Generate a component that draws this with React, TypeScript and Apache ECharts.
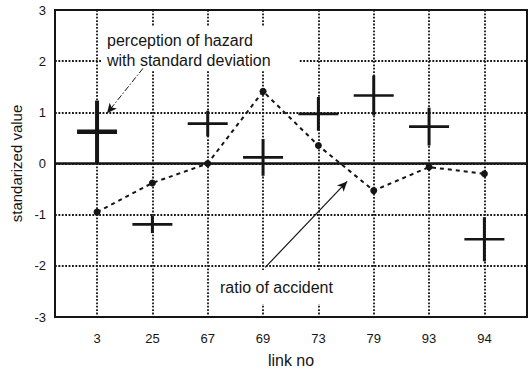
import React, { useEffect, useRef } from "react";
import * as echarts from "echarts";

const categories = ["3", "25", "67", "69", "73", "79", "93", "94"];
const hazardMean = [0.62, -1.19, 0.78, 0.12, 0.97, 1.33, 0.72, -1.48];
const hazardSd = [0.61, 0.17, 0.25, 0.36, 0.33, 0.39, 0.37, 0.43];
const accidentRatio = [-0.95, -0.38, 0.0, 1.41, 0.35, -0.53, -0.07, -0.2];
const yTickLabels = ["-3", "-2", "-1", "0", "1", "2", "3"];

const FONT = "'Liberation Sans', Arial, Helvetica, sans-serif";
const INK = "#151515";

export default function App() {
  const ref = useRef<HTMLDivElement>(null);

  useEffect(() => {
    if (!ref.current) return;
    const chart = echarts.init(ref.current, undefined, { renderer: "svg" });
    const idx = categories.map((_, i) => i);
    const dotted = [1.8, 1.6];

    const option: any = {
      animation: false,
      backgroundColor: "#ffffff",
      grid: {
        left: 55,
        right: 2,
        top: 10,
        bottom: 53,
        containLabel: false,
        outerBoundsMode: "none",
        show: true,
        borderColor: INK,
        borderWidth: 2,
        backgroundColor: "#ffffff",
      },
      xAxis: {
        type: "value",
        min: -0.76,
        max: 7.77,
        name: "link no",
        nameLocation: "middle",
        nameGap: 35,
        nameTextStyle: { fontFamily: FONT, fontSize: 16, color: INK },
        axisLine: { show: false, onZero: false },
        axisTick: { show: false, customValues: idx },
        axisLabel: {
          customValues: idx,
          margin: 15,
          fontFamily: FONT,
          fontSize: 13,
          color: INK,
          formatter: (v: number) => categories[Math.round(v)] ?? "",
        },
        splitLine: {
          show: true,
          lineStyle: { color: INK, width: 1.8, type: dotted },
        },
      },
      yAxis: {
        type: "value",
        min: -3,
        max: 3,
        interval: 1,
        name: "standarized value",
        nameLocation: "middle",
        nameGap: 28,
        nameRotate: 90,
        nameTextStyle: { fontFamily: FONT, fontSize: 15, color: INK },
        axisLine: { show: false },
        axisTick: { show: false },
        axisLabel: {
          margin: 9,
          fontFamily: FONT,
          fontSize: 13,
          color: INK,
          formatter: (v: number) => yTickLabels[Math.round(v) + 3],
        },
        splitLine: {
          show: true,
          lineStyle: { color: INK, width: 1.8, type: dotted },
        },
      },
      graphic: [
        {
          type: "rect",
          z: 1,
          shape: { x: 102, y: 27, width: 197, height: 44 },
          style: { fill: "#ffffff" },
        },
        {
          type: "text",
          z: 2,
          x: 107,
          y: 30,
          style: {
            text: "perception of hazard\nwith standard deviation",
            font: `16px ${FONT}`,
            lineHeight: 20,
            fill: INK,
          },
        },
        {
          type: "rect",
          z: 1,
          shape: { x: 214, y: 270, width: 126, height: 34 },
          style: { fill: "#ffffff" },
        },
        {
          type: "text",
          z: 2,
          x: 220,
          y: 279,
          style: {
            text: "ratio of accident",
            font: `16px ${FONT}`,
            fill: INK,
          },
        },
      ],
      series: [
        {
          type: "custom",
          name: "perception of hazard",
          z: 4,
          data: idx.map((i) => [i, hazardMean[i], hazardSd[i]]),
          renderItem: (params: any, api: any) => {
            const x = api.value(0);
            const m = api.value(1);
            const s = api.value(2);
            const c = api.coord([x, m]);
            const top = api.coord([x, m + s]);
            const bot = api.coord([x, m - s]);
            const thick = params.dataIndex === 0;
            const hw = 20;
            return {
              type: "group",
              children: [
                {
                  type: "line",
                  shape: { x1: c[0], y1: top[1], x2: c[0], y2: bot[1] },
                  style: { stroke: INK, lineWidth: thick ? 4 : 3 },
                },
                {
                  type: "line",
                  shape: { x1: c[0] - hw, y1: c[1], x2: c[0] + hw, y2: c[1] },
                  style: { stroke: INK, lineWidth: thick ? 4.5 : 2.6 },
                },
              ],
            };
          },
          markLine: {
            silent: true,
            symbol: ["none", "none"],
            label: { show: false },
            lineStyle: { color: INK, width: 2.5, type: "solid" },
            data: [{ yAxis: 0 }],
          },
        },
        {
          type: "line",
          name: "ratio of accident",
          z: 5,
          data: idx.map((i) => [i, accidentRatio[i]]),
          symbol: "circle",
          symbolSize: 7,
          itemStyle: { color: INK },
          lineStyle: { color: INK, width: 2, type: [4, 4] },
          markLine: {
            silent: true,
            label: { show: false },
            symbol: ["none", "arrow"],
            symbolSize: [7, 10],
            data: [
              [
                { coord: [0.83, 1.86], lineStyle: { color: INK, width: 1, type: [6, 2, 1.5, 2] } },
                { coord: [0.18, 0.98] },
              ],
              [
                { coord: [3.04, -2.03], lineStyle: { color: INK, width: 1.2, type: "solid" } },
                { coord: [4.52, -0.35] },
              ],
            ],
          },
        },
      ],
    };

    chart.setOption(option);
    return () => chart.dispose();
  }, []);

  return (
    <div
      ref={ref}
      style={{ position: "fixed", left: 0, top: 0, width: 529, height: 370, background: "#fff" }}
    />
  );
}
